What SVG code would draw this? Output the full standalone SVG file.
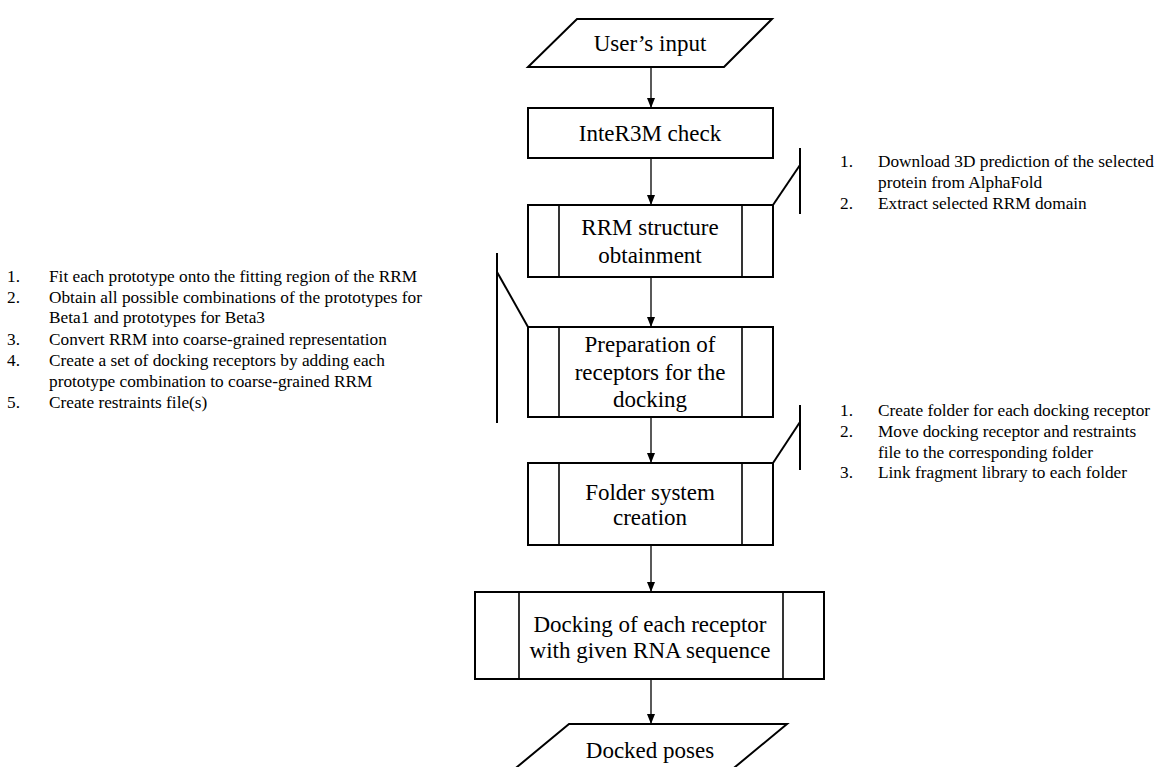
<svg xmlns="http://www.w3.org/2000/svg" width="1156" height="767" viewBox="0 0 1156 767">
<style>
.box{fill:#fff;stroke:#000;stroke-width:2}
.in{stroke:#000;stroke-width:1.6;fill:none}
.t{font-family:'Liberation Serif','Times New Roman',Tinos,'DejaVu Serif',serif;font-size:23px;fill:#000;text-anchor:middle}
.s{font-family:'Liberation Serif','Times New Roman',Tinos,'DejaVu Serif',serif;font-size:17.3px;fill:#000}
.c{stroke:#000;stroke-width:1.3;fill:none}
.b{stroke:#000;stroke-width:2;fill:none}
</style>
<defs>
<marker id="ah" markerWidth="10" markerHeight="8" refX="9" refY="4" orient="auto" markerUnits="userSpaceOnUse">
<path d="M0,0 L10,4 L0,8 Z" fill="#000"/>
</marker>
</defs>
<rect width="1156" height="767" fill="#fff"/>
<g id="connectors">
<line class="c" x1="651" y1="67" x2="651" y2="107" marker-end="url(#ah)"/>
<line class="c" x1="651" y1="158" x2="651" y2="204" marker-end="url(#ah)"/>
<line class="c" x1="651" y1="277" x2="651" y2="326" marker-end="url(#ah)"/>
<line class="c" x1="651" y1="417" x2="651" y2="462" marker-end="url(#ah)"/>
<line class="c" x1="651" y1="545" x2="651" y2="591" marker-end="url(#ah)"/>
<line class="c" x1="651" y1="679" x2="651" y2="723" marker-end="url(#ah)"/>
</g>
<g id="n-input">
<polygon class="box" points="577,19 772,19 724,67 528,67"/>
<text class="t" x="650" y="51">User’s input</text>
</g>
<g id="n-check">
<rect class="box" x="528" y="108" width="245" height="50"/>
<text class="t" x="650" y="141">InteR3M check</text>
</g>
<g id="n-rrm">
<rect class="box" x="528" y="205" width="245" height="72"/>
<line class="in" x1="559" y1="205" x2="559" y2="277"/>
<line class="in" x1="742" y1="205" x2="742" y2="277"/>
<text class="t" x="650" y="235">RRM structure</text>
<text class="t" x="650" y="263">obtainment</text>
</g>
<g id="n-prep">
<rect class="box" x="528" y="327" width="245" height="90"/>
<line class="in" x1="559" y1="327" x2="559" y2="417"/>
<line class="in" x1="742" y1="327" x2="742" y2="417"/>
<text class="t" x="650" y="352">Preparation of</text>
<text class="t" x="650" y="380">receptors for the</text>
<text class="t" x="650" y="407">docking</text>
</g>
<g id="n-folder">
<rect class="box" x="528" y="463" width="245" height="82"/>
<line class="in" x1="559" y1="463" x2="559" y2="545"/>
<line class="in" x1="742" y1="463" x2="742" y2="545"/>
<text class="t" x="650" y="500">Folder system</text>
<text class="t" x="650" y="525">creation</text>
</g>
<g id="n-docking">
<rect class="box" x="475" y="592" width="349" height="87"/>
<line class="in" x1="519" y1="592" x2="519" y2="679"/>
<line class="in" x1="783" y1="592" x2="783" y2="679"/>
<text class="t" x="650" y="632">Docking of each receptor</text>
<text class="t" x="650" y="658">with given RNA sequence</text>
</g>
<g id="n-output">
<polygon class="box" points="569,724 787,724 729,772 511,772"/>
<text class="t" x="650" y="758">Docked poses</text>
</g>
<g id="note-rrm">
<polyline class="b" points="773,205 800,165"/>
<line class="b" x1="800" y1="148" x2="800" y2="214"/>
<text class="s" x="840" y="167">1.</text>
<text class="s" x="878" y="167">Download 3D prediction of the selected</text>
<text class="s" x="878" y="188">protein from AlphaFold</text>
<text class="s" x="840" y="209">2.</text>
<text class="s" x="878" y="209">Extract selected RRM domain</text>
</g>
<g id="note-prep">
<polyline class="b" points="528,327 497,272"/>
<line class="b" x1="497" y1="253" x2="497" y2="423"/>
<text class="s" x="7" y="282">1.</text>
<text class="s" x="49" y="282">Fit each prototype onto the fitting region of the RRM</text>
<text class="s" x="7" y="303">2.</text>
<text class="s" x="49" y="303">Obtain all possible combinations of the prototypes for</text>
<text class="s" x="49" y="323">Beta1 and prototypes for Beta3</text>
<text class="s" x="7" y="345">3.</text>
<text class="s" x="49" y="345">Convert RRM into coarse-grained representation</text>
<text class="s" x="7" y="366">4.</text>
<text class="s" x="49" y="366">Create a set of docking receptors by adding each</text>
<text class="s" x="49" y="387">prototype combination to coarse-grained RRM</text>
<text class="s" x="7" y="408">5.</text>
<text class="s" x="49" y="408">Create restraints file(s)</text>
</g>
<g id="note-folder">
<polyline class="b" points="773,463 800,422"/>
<line class="b" x1="800" y1="405" x2="800" y2="470"/>
<text class="s" x="840" y="416">1.</text>
<text class="s" x="878" y="416">Create folder for each docking receptor</text>
<text class="s" x="840" y="437">2.</text>
<text class="s" x="878" y="437">Move docking receptor and restraints</text>
<text class="s" x="878" y="458">file to the corresponding folder</text>
<text class="s" x="840" y="478">3.</text>
<text class="s" x="878" y="478">Link fragment library to each folder</text>
</g>
</svg>
